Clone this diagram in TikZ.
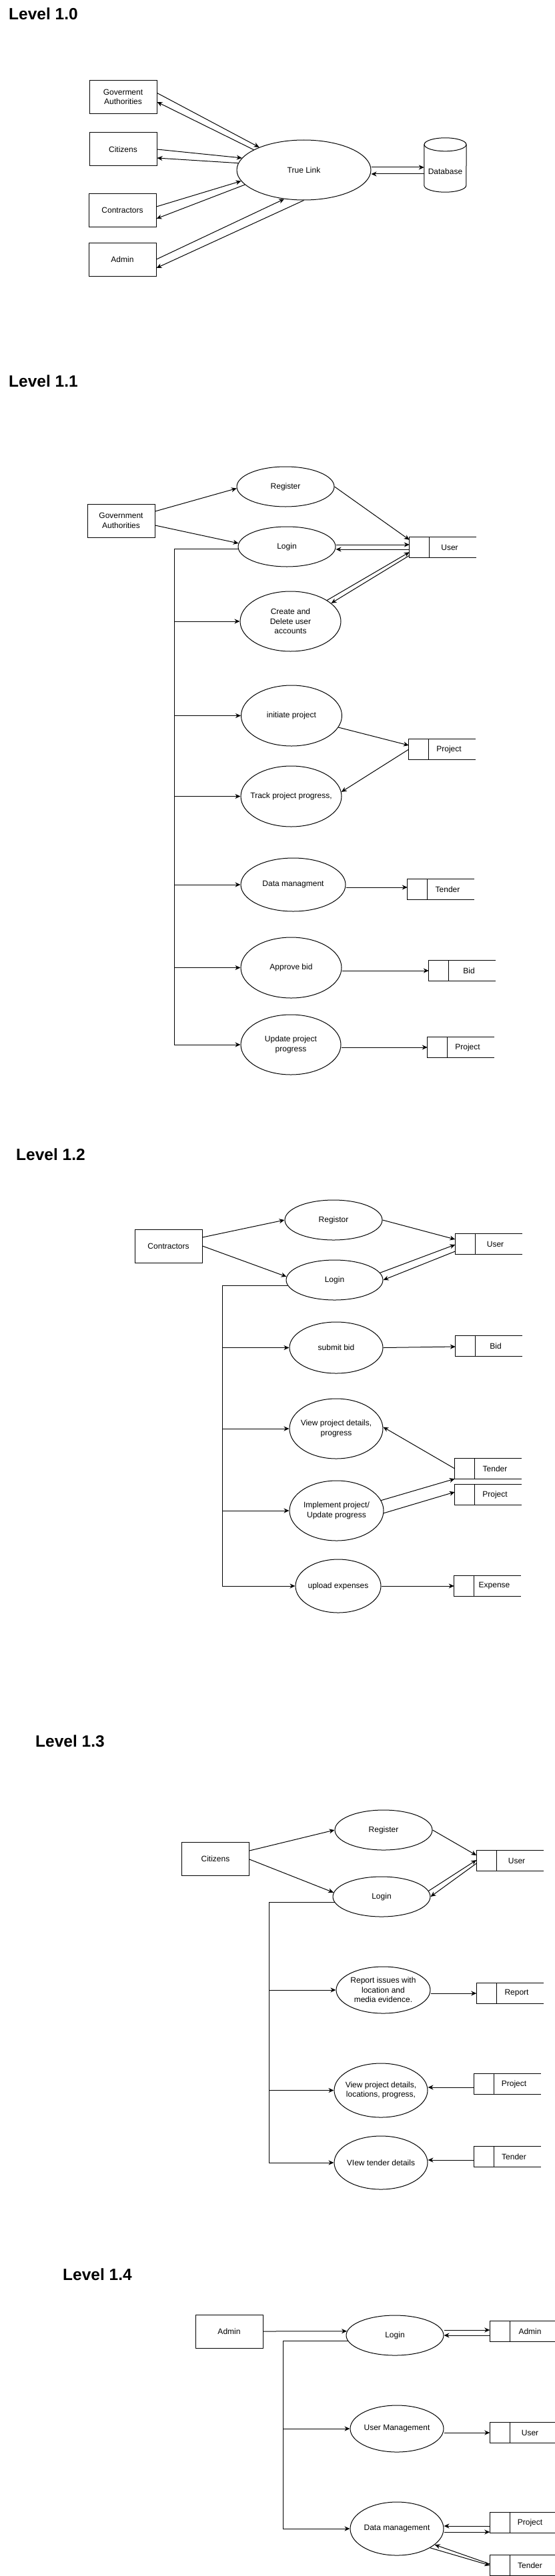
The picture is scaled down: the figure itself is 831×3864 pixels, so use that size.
\documentclass[tikz,border=0pt]{standalone}
\usepackage{fontspec}
\setmainfont{Liberation Sans}
\usetikzlibrary{shapes.geometric,arrows.meta,calc}
\tikzset{
  line/.style={line width=1pt, draw=black},
  arr/.style={line, -{Stealth[length=8pt,width=7pt,inset=2.5pt]}},
  ent/.style={draw, line width=1pt, rectangle, minimum width=101pt, minimum height=50pt, inner sep=0pt, align=center, font=\fontsize{12}{14.5}\selectfont},
  procst/.style={draw, line width=1pt, ellipse, inner sep=0pt},
  ptext/.style={align=center, inner sep=0pt, font=\fontsize{12}{14.5}\selectfont},
  storest/.style={rectangle, minimum width=100pt, minimum height=30pt, inner sep=0pt, font=\fontsize{12}{14.5}\selectfont},
  title/.style={anchor=base west, inner sep=0pt, font=\fontsize{24.5}{28}\selectfont\bfseries},
}
\newcommand\procnode[5]{\node[procst, minimum width=#3pt, minimum height=#4pt, label={[ptext]center:{#5}}] (#1) at #2 {};}
\newcommand\storenode[3]{\node[storest] (#1) at #2 {\hspace*{20pt}#3};
  \draw[line] (#1.north east) -- (#1.north west) -- (#1.south west) -- (#1.south east);
  \draw[line] ([xshift=30pt]#1.north west) -- ([xshift=30pt]#1.south west);}
\begin{document}
\begin{tikzpicture}[x=1pt,y=-1pt]
\fill[white] (0,0) rectangle (831,3864);
\useasboundingbox (0,0) rectangle (831,3864);

% ---------------- Level 1.0
\node[title] (t10) at (13,30) {Level 1.0};
\node[ent] (gov10) at (184.5,145.5) {Goverment\\Authorities};
\node[ent] (cit10) at (184.5,224) {Citizens};
\node[ent] (con10) at (183.5,315) {Contractors};
\node[ent] (adm10) at (183.5,389) {Admin};
\procnode{tl}{(455.5,255)}{201}{90}{True Link}
\node[minimum width=63pt, minimum height=81pt, inner sep=0pt, label={[ptext,yshift=-10pt]center:Database}] (db) at (667.5,247.5) {};
\draw[line] ([yshift=-10pt]db.north) ellipse [x radius=31.5pt, y radius=10pt];
\draw[line] ([yshift=-10pt]db.north west) -- ([yshift=10pt]db.south west) arc[start angle=180, end angle=360, x radius=31.5pt, y radius=10pt] -- ([yshift=-10pt]db.north east);

\draw[arr] ([yshift=6pt]gov10.east) -- (tl.153);
\draw[arr] (tl.158) -- ([yshift=-7.5pt]gov10.east);
\draw[arr] (cit10.east) -- (tl.169);
\draw[arr] (tl.174) -- ([yshift=-13pt]cit10.east);
\draw[arr] ([yshift=5pt]con10.east) -- (tl.190);
\draw[arr] (tl.194) -- ([yshift=-13pt]con10.east);
\draw[arr] (adm10.east) -- (tl.236);
\draw[arr] (tl.south) -- ([yshift=-13pt]adm10.east);
\draw[arr] ([yshift=4pt]tl.east) -- ([yshift=-3.5pt]db.west);
\draw[arr] ([yshift=-13.5pt]db.west) -- ([yshift=-6pt]tl.east);

% ---------------- Level 1.1
\node[title] (t11) at (13,580) {Level 1.1};
\node[ent] (ga11) at (181.5,781) {Government\\Authorities};
\procnode{reg11}{(428,730)}{146}{60}{Register}
\procnode{log11}{(430,820)}{146}{60}{Login}
\storenode{user11}{(664,821)}{User}
\procnode{cda11}{(435.5,932)}{151}{90}{Create and\\Delete user\\accounts}
\procnode{ip11}{(437,1073.5)}{151}{91}{initiate project}
\procnode{tp11}{(436.5,1194.5)}{151}{91}{Track project progress,}
\procnode{dm11}{(439.5,1327)}{157}{80}{Data managment}
\procnode{ab11}{(436.5,1451.5)}{151}{91}{Approve bid}
\procnode{upd11}{(436,1567)}{150}{90}{Update project\\progress}
\storenode{proj11a}{(663,1124)}{Project}
\storenode{ten11}{(661,1334)}{Tender}
\storenode{bid11}{(693,1456)}{Bid}
\storenode{proj11b}{(691,1571)}{Project}
\coordinate (brx11) at (261,0);
\draw[line] (log11.183) -- (log11.183 -| brx11) -- (brx11 |- upd11.west);
\foreach \n in {cda11,ip11,tp11,dm11,ab11,upd11} \draw[arr] (brx11 |- \n.west) -- (\n.west);
\draw[arr] ([yshift=14pt]ga11.east) -- (reg11.182);
\draw[arr] ([yshift=-7pt]ga11.east) -- (log11.176);
\draw[arr] (reg11.east) -- ([yshift=-4pt]user11.north west);
\draw[arr] ([yshift=3pt]log11.east) -- ([yshift=4pt]user11.west);
\draw[arr] ([yshift=-3pt]user11.west) -- ([yshift=-4pt]log11.east);
\draw[arr] (cda11.30) -- ([yshift=8pt]user11.south west);
\draw[arr] ([yshift=3pt]user11.south west) -- (cda11.24);
\draw[arr] (ip11.346) -- ([yshift=6pt]proj11a.west);
\draw[arr] (proj11a.west) -- (tp11.5);
\draw[arr] ([yshift=-4pt]dm11.east) -- ([yshift=3pt]ten11.west);
\draw[arr] ([yshift=-4.5pt]ab11.east) -- (bid11.west);
\draw[arr] ([yshift=-4pt]upd11.east) -- (proj11b.west);

% ---------------- Level 1.2
\node[title] (t12) at (24,1740) {Level 1.2};
\node[ent] (con12) at (252.5,1869) {Contractors};
\procnode{reg12}{(500,1830)}{146}{60}{Registor}
\procnode{log12}{(501.5,1920)}{145}{60}{Login}
\storenode{user12}{(732.5,1866)}{User}
\procnode{sb12}{(504,2021.5)}{140}{77}{submit bid}
\storenode{bid12}{(733,2019)}{Bid}
\procnode{vp12}{(504,2143)}{140}{90}{View project details,\\progress}
\storenode{ten12}{(732,2203)}{Tender}
\storenode{proj12}{(732,2242)}{Project}
\procnode{imp12}{(504.5,2266)}{141}{90}{Implement project/\\Update progress}
\procnode{ue12}{(507,2379)}{128}{80}{upload expenses}
\storenode{exp12}{(731,2379)}{Expense}
\coordinate (brx12) at (333,0);
\draw[line] (log12.187) -- (log12.187 -| brx12) -- (brx12 |- ue12.west);
\foreach \n in {sb12,vp12,imp12,ue12} \draw[arr] (brx12 |- \n.west) -- (\n.west);
\draw[arr] ([yshift=13pt]con12.east) -- (reg12.west);
\draw[arr] (con12.east) -- (log12.176);
\draw[arr] (reg12.east) -- ([yshift=7pt]user12.west);
\draw[arr] (log12.9) -- ([yshift=-1pt]user12.west);
\draw[arr] ([yshift=-11pt]user12.west) -- (log12.east);
\draw[arr] (sb12.east) -- ([yshift=-1pt]bid12.west);
\draw[arr] (ten12.west) -- (vp12.2);
\draw[arr] (imp12.13) -- (ten12.south west);
\draw[arr] (imp12.357) -- ([yshift=4pt]proj12.west);
\draw[arr] (ue12.east) -- (exp12.west);

% ---------------- Level 1.3
\node[title] (t13) at (53,2620) {Level 1.3};
\node[ent] (cit13) at (323,2788) {Citizens};
\procnode{reg13}{(575,2745)}{146}{60}{Register}
\procnode{log13}{(572,2845)}{146}{60}{Login}
\storenode{user13}{(764.5,2791)}{User}
\procnode{rep13}{(574.5,2985)}{141}{70}{Report issues with\\location and\\media evidence.}
\storenode{reps13}{(764.5,2990)}{Report}
\procnode{vpd13}{(571,3135.5)}{140}{81}{View project details,\\locations, progress,}
\storenode{proj13}{(760.5,3126)}{Project}
\procnode{vt13}{(571,3244)}{140}{80}{VIew tender details}
\storenode{ten13}{(760.5,3235)}{Tender}
\coordinate (brx13) at (403,0);
\draw[line] (log13.187) -- (log13.187 -| brx13) -- (brx13 |- vt13.west);
\foreach \n in {rep13,vpd13,vt13} \draw[arr] (brx13 |- \n.west) -- (\n.west);
\draw[arr] ([yshift=12pt]cit13.east) -- (reg13.west);
\draw[arr] ([yshift=-1pt]cit13.east) -- (log13.175);
\draw[arr] (reg13.east) -- ([yshift=8pt]user13.west);
\draw[arr] (log13.7) -- ([yshift=1pt]user13.west);
\draw[arr] ([yshift=-4pt]user13.west) -- (log13.east);
\draw[arr] ([yshift=-5pt]rep13.east) -- (reps13.west);
\draw[arr] ([yshift=-5pt]proj13.west) -- ([yshift=4.5pt]vpd13.east);
\draw[arr] ([yshift=-5pt]ten13.west) -- ([yshift=4pt]vt13.east);

% ---------------- Level 1.4
\node[title] (t14) at (94,3420) {Level 1.4};
\node[ent] (adm14) at (343.5,3497) {Admin};
\procnode{log14}{(592,3503)}{146}{60}{Login}
\storenode{adms14}{(784.5,3497)}{Admin}
\procnode{um14}{(595,3643)}{140}{70}{User Management}
\storenode{users14}{(784.5,3649)}{User}
\procnode{dmg14}{(595,3793)}{140}{80}{Data management}
\storenode{projs14}{(784.5,3784)}{Project}
\storenode{tens14}{(784.5,3848)}{Tender}
\coordinate (brx14) at (424,0);
\draw[line] (log14.187) -- (log14.187 -| brx14) -- (brx14 |- dmg14.west);
\foreach \n in {um14,dmg14} \draw[arr] (brx14 |- \n.west) -- (\n.west);
\draw[arr] (adm14.east) -- (log14.175);
\draw[arr] ([yshift=8pt]log14.east) -- ([yshift=2pt]adms14.west);
\draw[arr] ([yshift=-6pt]adms14.west) -- (log14.east);
\draw[arr] ([yshift=-6pt]um14.east) -- (users14.west);
\draw[arr] ([yshift=-5pt]projs14.west) -- ([yshift=4pt]dmg14.east);
\draw[arr] ([yshift=-5pt]dmg14.east) -- ([yshift=-14pt]projs14.west);
\draw[arr] (dmg14.330) -- (tens14.west);
\draw[arr] ([yshift=2pt]tens14.west) -- (dmg14.337);
\end{tikzpicture}
\end{document}
